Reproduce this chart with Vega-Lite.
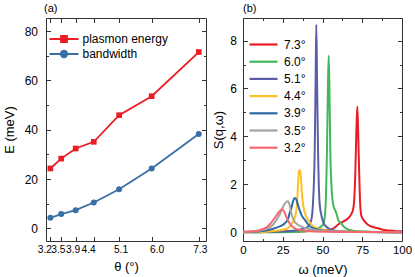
{
  "$schema": "https://vega.github.io/schema/vega-lite/v6.json",
  "padding": {"left": 2, "top": 2, "right": 1, "bottom": 1},
  "background": "white",
  "bounds": "flush",
  "spacing": 37,
  "resolve": {"scale": {"color": "independent", "shape": "independent"}, "legend": {"color": "independent", "shape": "independent"}},
  "config": {
    "font": "Liberation Sans",
    "view": {"stroke": "#333333", "strokeWidth": 1},
    "axis": {"domain": false, "grid": false, "tickColor": "#333333", "tickWidth": 1, "labelColor": "black", "titleColor": "black", "labelFontSize": 12, "titleFontSize": 13, "titleFontWeight": "normal", "labelFlush": false, "labelOverlap": false},
    "legend": {"labelFontSize": 12, "labelColor": "black"},
    "title": {"fontSize": 11, "fontWeight": "normal", "anchor": "start", "color": "black", "frame": "group"}
  },
  "hconcat": [
    {
      "width": 160,
      "height": 223,
      "title": {"text": "(a)", "dx": -2, "offset": 4},
      "data": {"values": [
        {"theta": 3.2, "E": 24.3, "series": "plasmon energy"},
        {"theta": 3.5, "E": 28.3, "series": "plasmon energy"},
        {"theta": 3.9, "E": 32.4, "series": "plasmon energy"},
        {"theta": 4.4, "E": 35.1, "series": "plasmon energy"},
        {"theta": 5.1, "E": 45.9, "series": "plasmon energy"},
        {"theta": 6.0, "E": 53.6, "series": "plasmon energy"},
        {"theta": 7.3, "E": 71.5, "series": "plasmon energy"},
        {"theta": 3.2, "E": 4.3, "series": "bandwidth"},
        {"theta": 3.5, "E": 5.8, "series": "bandwidth"},
        {"theta": 3.9, "E": 7.4, "series": "bandwidth"},
        {"theta": 4.4, "E": 10.5, "series": "bandwidth"},
        {"theta": 5.1, "E": 15.9, "series": "bandwidth"},
        {"theta": 6.0, "E": 24.3, "series": "bandwidth"},
        {"theta": 7.3, "E": 38.3, "series": "bandwidth"}
      ]},
      "layer": [
        {
          "mark": {"type": "line", "strokeWidth": 1.8},
          "encoding": {
            "x": {"field": "theta", "type": "quantitative", "scale": {"domain": [3.08, 7.5], "nice": false, "zero": false},
              "axis": {"orient": "bottom", "title": "θ (°)", "values": [3.2, 3.5, 3.9, 4.4, 5.1, 6.0, 7.3], "format": ".1f", "tickSize": -4.5, "labelPadding": 8, "labelFontSize": 10.2, "titlePadding": 6,
                "labelOffset": {"condition": [
                  {"test": "datum.value < 3.3", "value": -6},
                  {"test": "datum.value < 3.6", "value": -3.3},
                  {"test": "datum.value < 4", "value": -3.2},
                  {"test": "datum.value < 4.5", "value": -5.7},
                  {"test": "datum.value < 5.5", "value": 1.4},
                  {"test": "datum.value < 6.5", "value": 5}
                ], "value": 1}}},
            "y": {"field": "E", "type": "quantitative", "scale": {"domain": [-5.1, 85.3], "nice": false, "zero": false},
              "axis": {"title": "E (meV)", "values": [0, 10, 20, 30, 40, 50, 60, 70, 80], "labelExpr": "datum.value % 20 === 0 ? datum.label : ''", "tickSize": {"condition": {"test": "datum.value % 20 !== 0", "value": -2.5}, "value": -4.5}, "labelPadding": 13, "titlePadding": 8}},
            "color": {"field": "series", "type": "nominal", "scale": {"domain": ["plasmon energy", "bandwidth"], "range": ["#ec1c24", "#3a6fa6"]},
              "legend": {"orient": "none", "legendX": 12, "legendY": 15, "title": null, "symbolSize": 100, "labelOffset": 12.5, "rowPadding": 1,
                "encode": {"symbols": {"update": {
                  "shape": {"signal": "datum.value == 'plasmon energy' ? 'M-2.9,0H2.9M-0.6,-0.6H0.6V0.6H-0.6Z' : 'M-2.9,0H2.9M0.65,0A0.65,0.65,0,1,1,-0.65,0A0.65,0.65,0,1,1,0.65,0Z'"},
                  "stroke": {"signal": "datum.value == 'plasmon energy' ? '#ec1c24' : '#3a6fa6'"},
                  "fill": {"signal": "datum.value == 'plasmon energy' ? '#ec1c24' : '#3a6fa6'"},
                  "strokeWidth": {"value": 1.8},
                  "opacity": {"value": 1},
                  "size": {"value": 100}
                }}}}}
          }
        },
        {
          "transform": [{"filter": "datum.series == 'plasmon energy'"}],
          "mark": {"type": "point", "filled": true, "size": 32, "opacity": 1, "shape": "square", "color": "#ec1c24"},
          "encoding": {
            "x": {"field": "theta", "type": "quantitative", "axis": null},
            "y": {"field": "E", "type": "quantitative", "axis": null}
          }
        },
        {
          "transform": [{"filter": "datum.series == 'bandwidth'"}],
          "mark": {"type": "point", "filled": true, "size": 36, "opacity": 1, "shape": "circle", "color": "#3a6fa6"},
          "encoding": {
            "x": {"field": "theta", "type": "quantitative", "axis": null},
            "y": {"field": "E", "type": "quantitative", "axis": null}
          }
        },
        {
          "mark": {"type": "point", "opacity": 0},
          "encoding": {
            "x": {"field": "theta", "type": "quantitative", "axis": {"orient": "top", "title": null, "labels": false, "values": [3.2, 3.5, 3.9, 4.4, 5.1, 6.0, 7.3], "tickSize": -4.5}},
            "y": {"field": "E", "type": "quantitative", "axis": {"orient": "right", "title": null, "labels": false, "values": [0, 10, 20, 30, 40, 50, 60, 70, 80], "tickSize": {"condition": {"test": "datum.value % 20 !== 0", "value": -2.5}, "value": -4.5}}}
          }
        }
      ],
      "resolve": {"axis": {"x": "independent", "y": "independent"}}
    },
    {
      "width": 159,
      "height": 223,
      "title": {"text": "(b)", "offset": 4},
      "data": {"values": [
        {"w": 0, "s": 0.02, "a": "7.3°"}, {"w": 20, "s": 0.03, "a": "7.3°"}, {"w": 40, "s": 0.05, "a": "7.3°"}, {"w": 50, "s": 0.08, "a": "7.3°"}, {"w": 55.5, "s": 0.12, "a": "7.3°"}, {"w": 58, "s": 0.22, "a": "7.3°"}, {"w": 59.7, "s": 0.32, "a": "7.3°"}, {"w": 63, "s": 0.45, "a": "7.3°"}, {"w": 66, "s": 0.58, "a": "7.3°"}, {"w": 68, "s": 0.75, "a": "7.3°"}, {"w": 69.2, "s": 0.94, "a": "7.3°"}, {"w": 70, "s": 1.4, "a": "7.3°"}, {"w": 70.6, "s": 2.4, "a": "7.3°"}, {"w": 71.3, "s": 4.2, "a": "7.3°"}, {"w": 71.9, "s": 5.25, "a": "7.3°"}, {"w": 72.5, "s": 4.0, "a": "7.3°"}, {"w": 73.1, "s": 2.4, "a": "7.3°"}, {"w": 73.7, "s": 1.2, "a": "7.3°"}, {"w": 74.4, "s": 0.7, "a": "7.3°"}, {"w": 76, "s": 0.5, "a": "7.3°"}, {"w": 78.6, "s": 0.32, "a": "7.3°"}, {"w": 82, "s": 0.22, "a": "7.3°"}, {"w": 85, "s": 0.17, "a": "7.3°"}, {"w": 89, "s": 0.1, "a": "7.3°"}, {"w": 95, "s": 0.06, "a": "7.3°"}, {"w": 100, "s": 0.05, "a": "7.3°"},
        {"w": 0, "s": 0.0, "a": "6.0°"}, {"w": 30, "s": 0.02, "a": "6.0°"}, {"w": 40, "s": 0.05, "a": "6.0°"}, {"w": 45, "s": 0.1, "a": "6.0°"}, {"w": 48, "s": 0.2, "a": "6.0°"}, {"w": 50, "s": 0.3, "a": "6.0°"}, {"w": 50.9, "s": 0.42, "a": "6.0°"}, {"w": 52, "s": 1.2, "a": "6.0°"}, {"w": 52.8, "s": 3.4, "a": "6.0°"}, {"w": 53.4, "s": 6.0, "a": "6.0°"}, {"w": 53.9, "s": 7.38, "a": "6.0°"}, {"w": 54.4, "s": 5.8, "a": "6.0°"}, {"w": 54.9, "s": 3.4, "a": "6.0°"}, {"w": 55.6, "s": 2.0, "a": "6.0°"}, {"w": 56.6, "s": 1.2, "a": "6.0°"}, {"w": 58.7, "s": 0.8, "a": "6.0°"}, {"w": 60, "s": 0.5, "a": "6.0°"}, {"w": 61.8, "s": 0.37, "a": "6.0°"}, {"w": 64, "s": 0.2, "a": "6.0°"}, {"w": 66, "s": 0.12, "a": "6.0°"}, {"w": 70, "s": 0.06, "a": "6.0°"}, {"w": 80, "s": 0.03, "a": "6.0°"}, {"w": 100, "s": 0.01, "a": "6.0°"},
        {"w": 0, "s": 0.0, "a": "5.1°"}, {"w": 25, "s": 0.04, "a": "5.1°"}, {"w": 35, "s": 0.1, "a": "5.1°"}, {"w": 38, "s": 0.15, "a": "5.1°"}, {"w": 40.9, "s": 0.24, "a": "5.1°"}, {"w": 43, "s": 0.53, "a": "5.1°"}, {"w": 44, "s": 1.2, "a": "5.1°"}, {"w": 45.1, "s": 3.4, "a": "5.1°"}, {"w": 45.7, "s": 6.5, "a": "5.1°"}, {"w": 46.1, "s": 8.66, "a": "5.1°"}, {"w": 46.6, "s": 6.2, "a": "5.1°"}, {"w": 47.2, "s": 3.4, "a": "5.1°"}, {"w": 48.2, "s": 1.2, "a": "5.1°"}, {"w": 49.7, "s": 0.6, "a": "5.1°"}, {"w": 51.4, "s": 0.3, "a": "5.1°"}, {"w": 55, "s": 0.13, "a": "5.1°"}, {"w": 60, "s": 0.05, "a": "5.1°"}, {"w": 70, "s": 0.02, "a": "5.1°"}, {"w": 100, "s": 0.01, "a": "5.1°"},
        {"w": 0, "s": 0.01, "a": "4.4°"}, {"w": 15, "s": 0.03, "a": "4.4°"}, {"w": 22, "s": 0.08, "a": "4.4°"}, {"w": 27.2, "s": 0.14, "a": "4.4°"}, {"w": 29.4, "s": 0.24, "a": "4.4°"}, {"w": 31.4, "s": 0.44, "a": "4.4°"}, {"w": 32.5, "s": 0.6, "a": "4.4°"}, {"w": 33.3, "s": 0.85, "a": "4.4°"}, {"w": 34, "s": 1.2, "a": "4.4°"}, {"w": 34.6, "s": 2.0, "a": "4.4°"}, {"w": 35.2, "s": 2.55, "a": "4.4°"}, {"w": 35.7, "s": 2.6, "a": "4.4°"}, {"w": 36.3, "s": 2.4, "a": "4.4°"}, {"w": 37, "s": 1.7, "a": "4.4°"}, {"w": 37.7, "s": 1.2, "a": "4.4°"}, {"w": 39, "s": 0.8, "a": "4.4°"}, {"w": 40.9, "s": 0.53, "a": "4.4°"}, {"w": 44, "s": 0.26, "a": "4.4°"}, {"w": 48, "s": 0.14, "a": "4.4°"}, {"w": 55, "s": 0.07, "a": "4.4°"}, {"w": 65, "s": 0.03, "a": "4.4°"}, {"w": 100, "s": 0.01, "a": "4.4°"},
        {"w": 0, "s": 0.02, "a": "3.9°"}, {"w": 10, "s": 0.04, "a": "3.9°"}, {"w": 14.7, "s": 0.08, "a": "3.9°"}, {"w": 21, "s": 0.2, "a": "3.9°"}, {"w": 26.2, "s": 0.37, "a": "3.9°"}, {"w": 28.3, "s": 0.55, "a": "3.9°"}, {"w": 29.3, "s": 0.8, "a": "3.9°"}, {"w": 30.4, "s": 1.0, "a": "3.9°"}, {"w": 31.5, "s": 1.3, "a": "3.9°"}, {"w": 32.5, "s": 1.43, "a": "3.9°"}, {"w": 33.5, "s": 1.38, "a": "3.9°"}, {"w": 34.5, "s": 1.15, "a": "3.9°"}, {"w": 35.6, "s": 0.93, "a": "3.9°"}, {"w": 37, "s": 0.7, "a": "3.9°"}, {"w": 38.8, "s": 0.53, "a": "3.9°"}, {"w": 41.9, "s": 0.26, "a": "3.9°"}, {"w": 45, "s": 0.15, "a": "3.9°"}, {"w": 50, "s": 0.08, "a": "3.9°"}, {"w": 60, "s": 0.03, "a": "3.9°"}, {"w": 100, "s": 0.01, "a": "3.9°"},
        {"w": 0, "s": 0.02, "a": "3.5°"}, {"w": 10, "s": 0.07, "a": "3.5°"}, {"w": 16.8, "s": 0.2, "a": "3.5°"}, {"w": 21, "s": 0.51, "a": "3.5°"}, {"w": 23.5, "s": 0.8, "a": "3.5°"}, {"w": 25.2, "s": 1.07, "a": "3.5°"}, {"w": 27, "s": 1.25, "a": "3.5°"}, {"w": 28.3, "s": 1.3, "a": "3.5°"}, {"w": 29.3, "s": 1.15, "a": "3.5°"}, {"w": 30.4, "s": 0.79, "a": "3.5°"}, {"w": 32.5, "s": 0.44, "a": "3.5°"}, {"w": 34.5, "s": 0.32, "a": "3.5°"}, {"w": 36.7, "s": 0.24, "a": "3.5°"}, {"w": 40, "s": 0.16, "a": "3.5°"}, {"w": 45, "s": 0.1, "a": "3.5°"}, {"w": 55, "s": 0.05, "a": "3.5°"}, {"w": 70, "s": 0.02, "a": "3.5°"}, {"w": 100, "s": 0.01, "a": "3.5°"},
        {"w": 0, "s": 0.03, "a": "3.2°"}, {"w": 8.4, "s": 0.06, "a": "3.2°"}, {"w": 12, "s": 0.13, "a": "3.2°"}, {"w": 14.7, "s": 0.2, "a": "3.2°"}, {"w": 17, "s": 0.35, "a": "3.2°"}, {"w": 18.9, "s": 0.51, "a": "3.2°"}, {"w": 21, "s": 0.7, "a": "3.2°"}, {"w": 23, "s": 0.88, "a": "3.2°"}, {"w": 24.6, "s": 0.96, "a": "3.2°"}, {"w": 26, "s": 0.85, "a": "3.2°"}, {"w": 27.2, "s": 0.65, "a": "3.2°"}, {"w": 29.4, "s": 0.37, "a": "3.2°"}, {"w": 32.5, "s": 0.17, "a": "3.2°"}, {"w": 36, "s": 0.1, "a": "3.2°"}, {"w": 40, "s": 0.06, "a": "3.2°"}, {"w": 50, "s": 0.03, "a": "3.2°"}, {"w": 100, "s": 0.01, "a": "3.2°"}
      ]},
      "layer": [
        {
          "mark": {"type": "line", "strokeWidth": 2, "interpolate": "monotone"},
          "encoding": {
            "x": {"field": "w", "type": "quantitative", "scale": {"domain": [0, 100], "nice": false, "zero": false},
              "axis": {"title": "ω (meV)", "values": [0, 12.5, 25, 37.5, 50, 62.5, 75, 87.5, 100], "labelExpr": "datum.value % 25 === 0 ? datum.label : ''", "tickSize": {"condition": {"test": "datum.value % 25 !== 0", "value": -2.5}, "value": -4.5}, "labelPadding": 8, "labelFontSize": 11.5, "titlePadding": 5}},
            "y": {"field": "s", "type": "quantitative", "scale": {"domain": [-0.36, 8.94], "nice": false, "zero": false},
              "axis": {"title": "S(q,ω)", "values": [0, 1, 2, 3, 4, 5, 6, 7, 8], "labelExpr": "datum.value % 2 === 0 ? datum.label : ''", "tickSize": {"condition": {"test": "datum.value % 2 !== 0", "value": -2.5}, "value": -4.5}, "labelPadding": 11, "titlePadding": 4}},
            "color": {"field": "a", "type": "nominal",
              "scale": {"domain": ["7.3°", "6.0°", "5.1°", "4.4°", "3.9°", "3.5°", "3.2°"], "range": ["#ea1c24", "#41b85c", "#5b5ea6", "#fdc125", "#2c6aa6", "#a3a3a3", "#f5686e"]},
              "legend": {"orient": "none", "legendX": 14, "legendY": 20, "title": null, "symbolType": "M-2.8,0H2.8", "symbolSize": 100, "symbolStrokeWidth": 2.2, "labelOffset": 14, "rowPadding": 4.2}}
          }
        },
        {
          "mark": {"type": "point", "opacity": 0},
          "encoding": {
            "x": {"field": "w", "type": "quantitative", "axis": {"orient": "top", "title": null, "labels": false, "values": [0, 12.5, 25, 37.5, 50, 62.5, 75, 87.5, 100], "tickSize": {"condition": {"test": "datum.value % 25 !== 0", "value": -2.5}, "value": -4.5}}},
            "y": {"field": "s", "type": "quantitative", "axis": {"orient": "right", "title": null, "labels": false, "values": [0, 1, 2, 3, 4, 5, 6, 7, 8], "tickSize": {"condition": {"test": "datum.value % 2 !== 0", "value": -2.5}, "value": -4.5}}}
          }
        }
      ],
      "resolve": {"axis": {"x": "independent", "y": "independent"}}
    }
  ]
}
